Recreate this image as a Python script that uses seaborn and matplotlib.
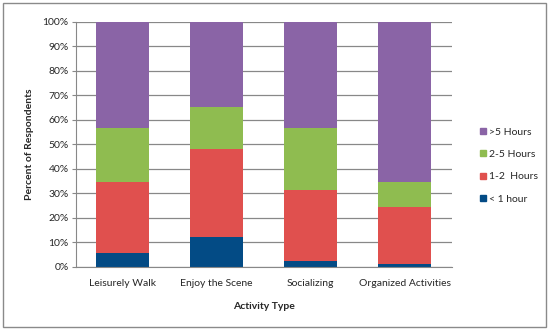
import numpy as np
import pandas as pd
import matplotlib
matplotlib.use('Agg')
import matplotlib.pyplot as plt
from matplotlib.patches import Rectangle
from matplotlib.lines import Line2D
import seaborn as sns

# data (percent of respondents)
activities = ['Leisurely Walk', 'Enjoy the Scene', 'Socializing', 'Organized Activities']
lt_1h = [5.5, 12.2, 2.2, 1.1]
h_1_2 = [29.1, 35.8, 29.1, 23.4]
h_2_5 = [22.1, 17.1, 25.4, 10.1]
gt_5h = [43.3, 34.9, 43.3, 65.4]
series_names = ['< 1 hour', '1-2  Hours', '2-5 Hours', '>5 Hours']
colors = ['#034B85', '#E0504E', '#8FBC50', '#8A64A6']

sns.set_style('white')
plt.rcParams['font.family'] = ['Lato', 'DejaVu Sans']

fig = plt.figure(figsize=(5.5, 3.3), dpi=100)
ax = fig.add_axes([75.7 / 550, 1 - 266.7 / 330, 376 / 550, 245 / 330])

vals = np.array([lt_1h, h_1_2, h_2_5, gt_5h])
cum = np.cumsum(vals, axis=0)

# draw stacked bars: tallest cumulative first, then overlay the lower ones
for i in range(3, -1, -1):
    df = pd.DataFrame({'activity': activities, 'pct': cum[i]})
    sns.barplot(data=df, x='activity', y='pct', color=colors[i], width=0.565,
                saturation=1, ax=ax, zorder=2, edgecolor='none', linewidth=0)

ax.set_ylim(0, 100)
ax.set_xlim(-0.5, 3.5)
ax.set_yticks(np.arange(0, 101, 10))
ax.set_yticklabels([f'{v}%' for v in range(0, 101, 10)], fontsize=7.5)
ax.tick_params(axis='x', labelsize=7.5, length=0, pad=9)
ax.tick_params(axis='y', length=3, color='#888888', pad=2, left=True)
ax.grid(axis='y', color='#888888', linewidth=0.9, zorder=0)
ax.set_axisbelow(True)
for s in ['top', 'right']:
    ax.spines[s].set_visible(False)
ax.spines['left'].set_color('#888888')
ax.spines['bottom'].set_color('#888888')

ax.set_xlabel('Activity Type', fontsize=7.5, fontweight='bold', labelpad=10)
ax.set_ylabel('Percent of Respondents', fontsize=7.5, fontweight='bold', labelpad=6)

handles = [Line2D([0], [0], marker='s', linestyle='none', markersize=5,
                  markerfacecolor=colors[i], markeredgecolor=colors[i],
                  label=series_names[i]) for i in range(3, -1, -1)]
fig.legend(handles=handles, loc='upper left', bbox_to_anchor=(468 / 550, 1 - 118 / 330),
           frameon=False, fontsize=7.5, labelspacing=1.25, handletextpad=0.1,
           handlelength=1.0)

fig.patches.append(Rectangle((3 / 550, 3 / 330), 543 / 550, 324 / 330,
                             transform=fig.transFigure, fill=False,
                             edgecolor='#8a8a8a', linewidth=1.0))

fig.savefig('out.png', dpi=100)
